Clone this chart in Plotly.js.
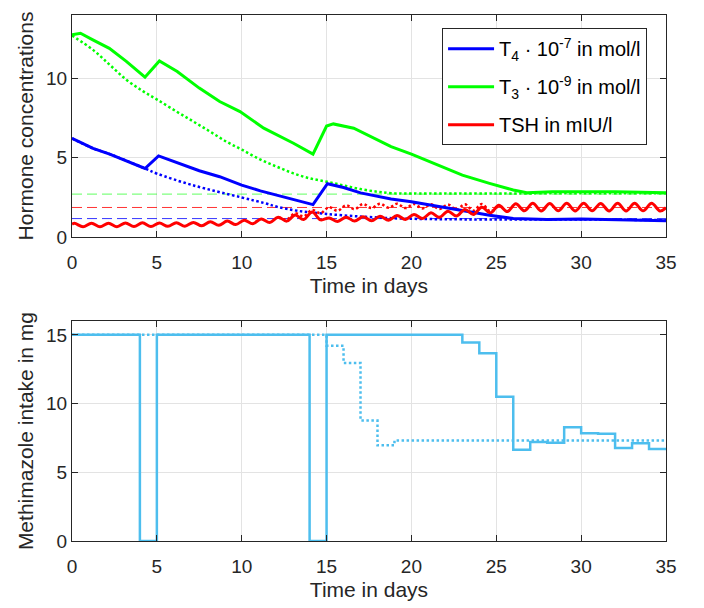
<!DOCTYPE html>
<html>
<head>
<meta charset="utf-8">
<script src="https://cdn.plot.ly/plotly-3.0.1.min.js"></script>
<style>html,body{margin:0;padding:0;background:#fff;}#chart{width:704px;height:608px;}</style>
</head>
<body>
<div id="chart"></div>
<script>
// ---- Data ----
const tickDays = [0, 5, 10, 15, 20, 25, 30, 35];

const tT4 = [0, 1.24, 2.22, 3.2, 4.3, 5.1, 6.2, 7.5, 8.7, 10, 11.1, 12.1, 13.05, 14.2, 15.05, 16, 17, 18.8, 20, 21.5, 23, 24.6, 26, 28, 30, 32, 35];
const vT4 = [6.22, 5.59, 5.23, 4.81, 4.32, 5.11, 4.68, 4.18, 3.80, 3.27, 2.91, 2.64, 2.36, 2.04, 3.36, 3.12, 2.78, 2.40, 2.22, 1.94, 1.65, 1.37, 1.16, 1.10, 1.14, 1.10, 1.02];

const tT4dot = [0, 1.24, 2.22, 3.2, 4.3, 5, 7.1, 10, 11.36, 12.1, 13.3, 15, 17.3, 19.2, 21, 23, 26, 30, 35];
const vT4dot = [6.22, 5.59, 5.23, 4.81, 4.32, 4.0, 3.27, 2.49, 2.13, 1.90, 1.65, 1.45, 1.27, 1.17, 1.13, 1.11, 1.10, 1.10, 1.06];

const tT3 = [0, 0.5, 1.2, 2.2, 3.2, 4.3, 5.15, 6.2, 7.5, 8.7, 9.9, 11.3, 13.05, 14.2, 15.0, 15.4, 16.6, 17.6, 18.8, 20.0, 21.5, 23.0, 24.6, 26.0, 26.8, 28.3, 30, 32, 35];
const vT3 = [12.75, 12.85, 12.45, 11.9, 11.08, 10.08, 11.1, 10.44, 9.39, 8.54, 7.91, 6.86, 5.91, 5.23, 7.0, 7.13, 6.86, 6.33, 5.70, 5.23, 4.54, 3.90, 3.38, 2.96, 2.79, 2.85, 2.85, 2.85, 2.79];

const tT3dot = [0, 1.24, 2.22, 3.2, 4.2, 5.04, 6.16, 7.15, 8.13, 9.1, 10.04, 11.08, 12.07, 13.05, 14.04, 15.04, 16, 17, 18, 18.8, 20, 25, 30, 35];
const vT3dot = [12.7, 11.8, 10.86, 9.92, 9.18, 8.65, 7.91, 7.28, 6.65, 6.01, 5.49, 4.89, 4.43, 4.01, 3.69, 3.48, 3.25, 3.02, 2.85, 2.76, 2.74, 2.74, 2.76, 2.75];

const tTSH = [0, 0.15, 0.65, 1.15, 1.65, 2.15, 2.65, 3.15, 3.65, 4.15, 4.65, 5.15, 5.65, 6.15, 6.65, 7.15, 7.65, 8.15, 8.65, 9.15, 9.65, 10.15, 10.65, 11.15, 11.65, 12.15, 12.65, 13.15, 13.65, 14.15, 14.65, 15.15, 15.65, 16.15, 16.65, 17.15, 17.65, 18.15, 18.65, 19.15, 19.65, 20.15, 20.65, 21.15, 21.65, 22.15, 22.65, 23.15, 23.65, 24.15, 24.65, 25.15, 25.65, 26.15, 26.65, 27.15, 27.65, 28.15, 28.65, 29.15, 29.65, 30.15, 30.65, 31.15, 31.65, 32.15, 32.65, 33.15, 33.65, 34.15, 34.65, 35];
const vTSH = [0.80, 0.86, 0.64, 0.87, 0.65, 0.87, 0.65, 0.88, 0.66, 0.89, 0.66, 0.88, 0.67, 0.90, 0.68, 0.92, 0.70, 0.96, 0.74, 1.00, 0.78, 1.06, 0.84, 1.14, 0.92, 1.25, 1.00, 1.38, 1.10, 1.58, 1.08, 1.20, 0.98, 1.25, 1.00, 1.27, 1.02, 1.30, 1.05, 1.36, 1.10, 1.42, 1.16, 1.52, 1.24, 1.62, 1.32, 1.74, 1.42, 1.88, 1.52, 2.00, 1.60, 2.10, 1.65, 2.12, 1.64, 2.11, 1.65, 2.12, 1.64, 2.12, 1.65, 2.11, 1.64, 2.12, 1.64, 2.12, 1.65, 2.12, 1.64, 1.85];

const tTSHdot = [12.15, 12.65, 13.15, 13.65, 14.15, 14.65, 15.15, 15.65, 16.15, 16.65, 17.15, 17.65, 18.15, 18.65, 19.15, 19.65, 20.15, 20.65, 21.15, 21.65, 22.15, 22.65, 23.15, 23.65, 24.15, 24.65, 25.15];
const vTSHdot = [1.25, 1.10, 1.50, 1.30, 1.70, 1.50, 1.88, 1.65, 2.00, 1.75, 2.08, 1.82, 2.10, 1.84, 2.10, 1.82, 2.08, 1.80, 2.06, 1.76, 2.05, 1.72, 2.06, 1.66, 2.08, 1.62, 2.00];

const tRef = [0, 35];
const refT4 = [1.16, 1.16];
const refT3 = [2.70, 2.70];
const refTSH = [1.86, 1.86];

const doseDays = [0, 4, 5, 14, 15, 23, 24, 25, 26, 27, 28, 29, 30, 31, 32, 33, 34, 35];
const doseActual = [15, 0, 15, 0, 15, 14.45, 13.67, 10.5, 6.64, 7.2, 7.15, 8.28, 7.85, 7.8, 6.76, 7.12, 6.69, 6.69];
const planDays = [0, 15, 16, 17, 18, 19, 35];
const dosePlan = [15, 14.2, 12.95, 8.77, 6.96, 7.32, 7.32];

// ---- Styling ----
const FONT = 'Liberation Sans, Arial, Helvetica, sans-serif';
const TXT = '#262626';
const BLUE = '#0000ff', GREEN = '#00ff00', RED = '#ff0000', CYAN = '#4dbeee';
const DOT = '2.5px,2.5px';

const traces = [
  {x: tRef, y: refT3, mode: 'lines', line: {color: 'rgba(0,255,0,0.5)', width: 1.2, dash: '10px,5px'}, showlegend: false, hoverinfo: 'skip'},
  {x: tRef, y: refTSH, mode: 'lines', line: {color: 'rgba(255,0,0,0.8)', width: 1, dash: '10px,5px'}, showlegend: false, hoverinfo: 'skip'},
  {x: tRef, y: refT4, mode: 'lines', line: {color: 'rgba(0,0,255,0.8)', width: 1, dash: '10px,5px'}, showlegend: false, hoverinfo: 'skip'},
  {x: tT3dot, y: vT3dot, mode: 'lines', line: {color: GREEN, width: 2.5, dash: DOT, shape: 'spline'}, showlegend: false},
  {x: tT4dot, y: vT4dot, mode: 'lines', line: {color: BLUE, width: 2.5, dash: DOT, shape: 'spline'}, showlegend: false},
  {x: tTSHdot, y: vTSHdot, mode: 'lines', line: {color: RED, width: 2.5, dash: DOT, shape: 'spline'}, showlegend: false},
  {x: tT4, y: vT4, mode: 'lines', name: 'T<sub>4</sub> · 10<sup>-7</sup> in mol/l', legendgroup: 'a', line: {color: BLUE, width: 3}},
  {x: tT3, y: vT3, mode: 'lines', name: 'T<sub>3</sub> · 10<sup>-9</sup> in mol/l', legendgroup: 'b', line: {color: GREEN, width: 3}},
  {x: tTSH, y: vTSH, mode: 'lines', name: 'TSH in mIU/l', legendgroup: 'c', line: {color: RED, width: 3, shape: 'spline'}},
  {x: planDays, y: dosePlan, xaxis: 'x2', yaxis: 'y2', mode: 'lines', line: {color: CYAN, width: 2.5, dash: DOT, shape: 'hv'}, showlegend: false},
  {x: doseDays, y: doseActual, xaxis: 'x2', yaxis: 'y2', mode: 'lines', line: {color: CYAN, width: 2.5, shape: 'hv'}, showlegend: false}
];

function xAxis(anchor) {
  return {
    anchor: anchor, domain: [0, 1], range: [0, 35], tickvals: tickDays,
    ticks: 'inside', ticklen: 6, tickcolor: TXT, showline: true, linecolor: TXT, linewidth: 1,
    mirror: 'ticks', showgrid: true, gridcolor: '#e3e3e3', zeroline: false,
    ticklabelstandoff: 8,
    tickfont: {size: 19, color: TXT, family: FONT},
    title: {text: 'Time in days', font: {size: 21, color: TXT, family: FONT}, standoff: 6}
  };
}
function yAxis(anchor, domain, range, title) {
  return {
    anchor: anchor, domain: domain, range: range, dtick: 5, tick0: 0,
    ticks: 'inside', ticklen: 6, tickcolor: TXT, showline: true, linecolor: TXT, linewidth: 1,
    mirror: 'ticks', showgrid: true, gridcolor: '#e3e3e3', zeroline: false,
    tickfont: {size: 19, color: TXT, family: FONT},
    title: {text: title, font: {size: 21, color: TXT, family: FONT}, standoff: 6}
  };
}

const layout = {
  width: 704, height: 608,
  margin: {l: 72, r: 38, t: 15, b: 67},
  paper_bgcolor: '#fff', plot_bgcolor: '#fff',
  font: {family: FONT, color: TXT},
  xaxis: xAxis('y'),
  yaxis: yAxis('x', [0.578, 1], [0, 14], 'Hormone concentrations'),
  xaxis2: xAxis('y2'),
  yaxis2: yAxis('x2', [0, 0.418], [0, 16], 'Methimazole intake in mg'),
  showlegend: true,
  legend: {
    x: 0.623, y: 0.975, xanchor: 'left', yanchor: 'top',
    bgcolor: '#fff', bordercolor: TXT, borderwidth: 1,
    font: {size: 20, color: '#000', family: FONT}, itemwidth: 46, tracegroupgap: 9
  }
};

Plotly.newPlot('chart', traces, layout, {staticPlot: true, displayModeBar: false});
</script>
</body>
</html>
